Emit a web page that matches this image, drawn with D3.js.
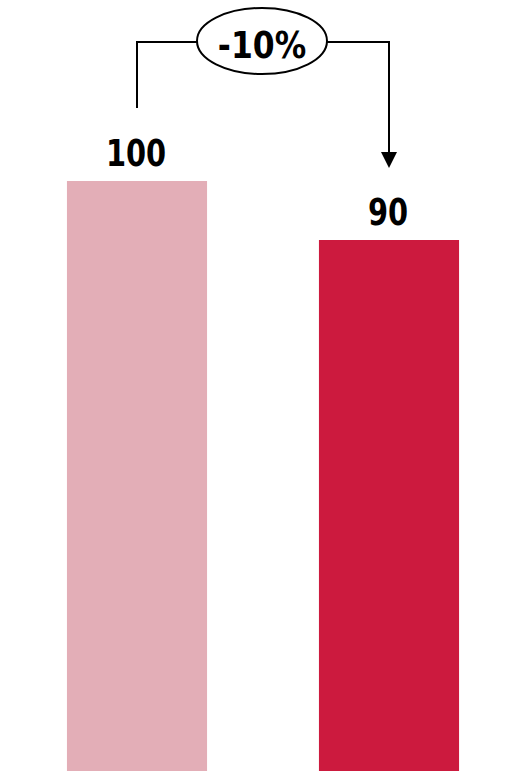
<!DOCTYPE html>
<html>
<head>
<meta charset="utf-8">
<script src="https://cdn.jsdelivr.net/npm/d3@7"></script>
<style>
  html, body { margin: 0; padding: 0; background: #fff; }
  svg { display: block; }
</style>
</head>
<body>
<svg id="chart" width="508" height="771"></svg>
<script>
const categories = ["Before", "After"];
const values = [100, 90];
const colors = ["#E3AEB7", "#CC1A3E"];

const W = 508, H = 771;
const svg = d3.select("#chart");

const x = d3.scaleBand()
  .domain(categories)
  .range([11, 515])
  .paddingInner(0.444)
  .paddingOuter(0.222);

const y = d3.scaleLinear()
  .domain([0, 100])
  .range([H, 181]);

const font = "'DejaVu Sans', sans-serif";

svg.selectAll("rect.bar")
  .data(values)
  .join("rect")
  .attr("class", "bar")
  .attr("x", (d, i) => x(categories[i]))
  .attr("y", d => y(d))
  .attr("width", x.bandwidth())
  .attr("height", d => y(0) - y(d))
  .attr("fill", (d, i) => colors[i]);

// value labels
svg.selectAll("text.val")
  .data(values)
  .join("text")
  .attr("class", "val")
  .attr("transform", (d, i) => `translate(${x(categories[i]) + x.bandwidth() / 2 - 1},${y(d) - 15}) scale(0.78,1)`)
  .attr("text-anchor", "middle")
  .attr("font-family", font)
  .attr("font-weight", "bold")
  .attr("font-size", 37)
  .attr("fill", "#000")
  .text(d => d);

// change annotation
const cx0 = x(categories[0]) + x.bandwidth() / 2;
const cx1 = x(categories[1]) + x.bandwidth() / 2;
const lineY = 42;
const midX = 262;
const rx = 65, ry = 33;

svg.append("path")
  .attr("d", `M${cx0},${y(values[0]) - 73} V${lineY} H${midX - rx}`)
  .attr("fill", "none")
  .attr("stroke", "#000")
  .attr("stroke-width", 2);

svg.append("path")
  .attr("d", `M${midX + rx},${lineY} H${cx1} V${y(values[1]) - 88}`)
  .attr("fill", "none")
  .attr("stroke", "#000")
  .attr("stroke-width", 2);

svg.append("path")
  .attr("d", `M${cx1 - 8},${y(values[1]) - 88} H${cx1 + 8} L${cx1},${y(values[1]) - 72} Z`)
  .attr("fill", "#000");

svg.append("ellipse")
  .attr("cx", midX)
  .attr("cy", lineY - 1)
  .attr("rx", rx)
  .attr("ry", ry)
  .attr("fill", "#fff")
  .attr("stroke", "#000")
  .attr("stroke-width", 2);

const pct = Math.round((values[1] - values[0]) / values[0] * 100);
svg.append("text")
  .attr("transform", `translate(${midX},${lineY + 16}) scale(0.85,1)`)
  .attr("text-anchor", "middle")
  .attr("font-family", font)
  .attr("font-weight", "bold")
  .attr("font-size", 37)
  .attr("fill", "#000")
  .text((pct > 0 ? "+" : "") + pct + "%");
</script>
</body>
</html>
